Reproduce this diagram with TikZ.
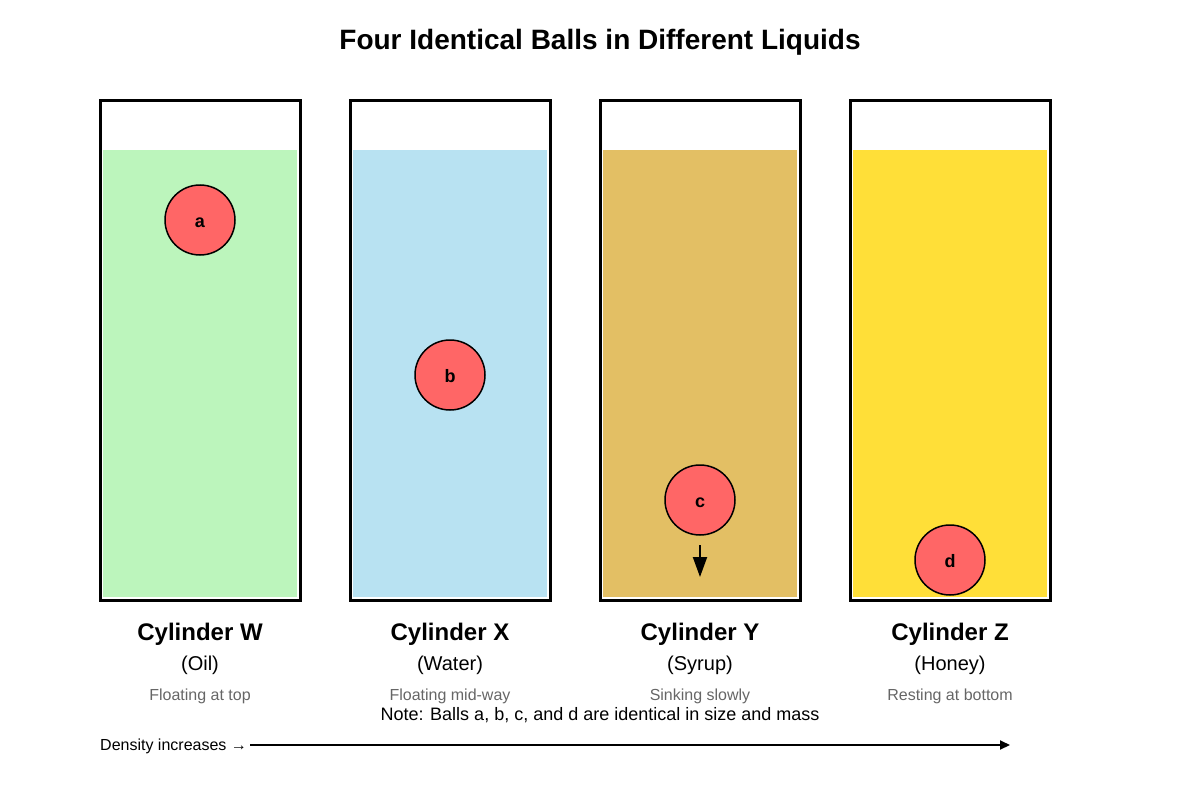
\documentclass[tikz,border=0pt]{standalone}
\usepackage{fontspec}
\setmainfont{Liberation Sans}
\usetikzlibrary{arrows.meta}
\definecolor{oil}{HTML}{BCF5BC}
\definecolor{water}{HTML}{B8E2F2}
\definecolor{syrup}{HTML}{E3BF64}
\definecolor{honey}{HTML}{FFDF38}
\definecolor{ballred}{HTML}{FF6666}
\definecolor{capgray}{HTML}{666666}
\tikzset{
  cylbox/.style={draw=black, line width=3pt, fill=white},
  ball/.style={circle, draw=black, line width=1.5pt, fill=ballred, minimum size=70pt, inner sep=0pt, text height=15pt, text depth=0pt, font=\bfseries\fontsize{18}{20}\selectfont},
  cname/.style={font=\bfseries\fontsize{24}{28}\selectfont},
  cliq/.style={font=\fontsize{20}{24}\selectfont},
  cstate/.style={font=\fontsize{16}{19}\selectfont, text=capgray},
}
\begin{document}
\begin{tikzpicture}[x=1pt,y=-1pt]
\useasboundingbox (0,0) rectangle (1200,800);
\node[font=\bfseries\fontsize{28}{32}\selectfont] (title) at (600,42) {Four Identical Balls in Different Liquids};
% cylinders
\foreach \x/\col/\n in {100/oil/W,350/water/X,600/syrup/Y,850/honey/Z}{
  \draw[cylbox] (\x,100) rectangle (\x+200,600);
  \fill[\col] (\x+3,150) rectangle (\x+197,597);
}
\node[ball] (a) at (200,220) {a};
\node[ball] (b) at (450,375) {b};
\node[ball] (c) at (700,500) {c};
\node[ball] (d) at (950,560) {d};
\coordinate (ctip) at (700,577);
\draw[line width=2pt, -{Triangle[length=20pt,width=14pt]}] (700,545) -- (ctip);
% labels
\node[cname] (nW) at (200,634) {Cylinder W};
\node[cname] (nX) at (450,634) {Cylinder X};
\node[cname] (nY) at (700,634) {Cylinder Y};
\node[cname] (nZ) at (950,634) {Cylinder Z};
\node[cliq] (lW) at (200,665) {(Oil)};
\node[cliq] (lX) at (450,665) {(Water)};
\node[cliq] (lY) at (700,665) {(Syrup)};
\node[cliq] (lZ) at (950,665) {(Honey)};
\node[cstate] (sW) at (200,696) {Floating at top};
\node[cstate] (sX) at (450,696) {Floating mid-way};
\node[cstate] (sY) at (700,696) {Sinking slowly};
\node[cstate] (sZ) at (950,696) {Resting at bottom};
\node[font=\fontsize{18}{21}\selectfont] (note) at (600,715) {Note: Balls a, b, c, and d are identical in size and mass};
\node[font=\fontsize{16}{19}\selectfont, anchor=west, inner sep=0pt] (dens) at (100,746) {Density increases →};
\coordinate (dstart) at (250,745);
\coordinate (dend) at (1010,745);
\draw[line width=2pt, -{Triangle[length=10pt,width=9pt]}] (dstart) -- (dend);
\end{tikzpicture}
\end{document}
